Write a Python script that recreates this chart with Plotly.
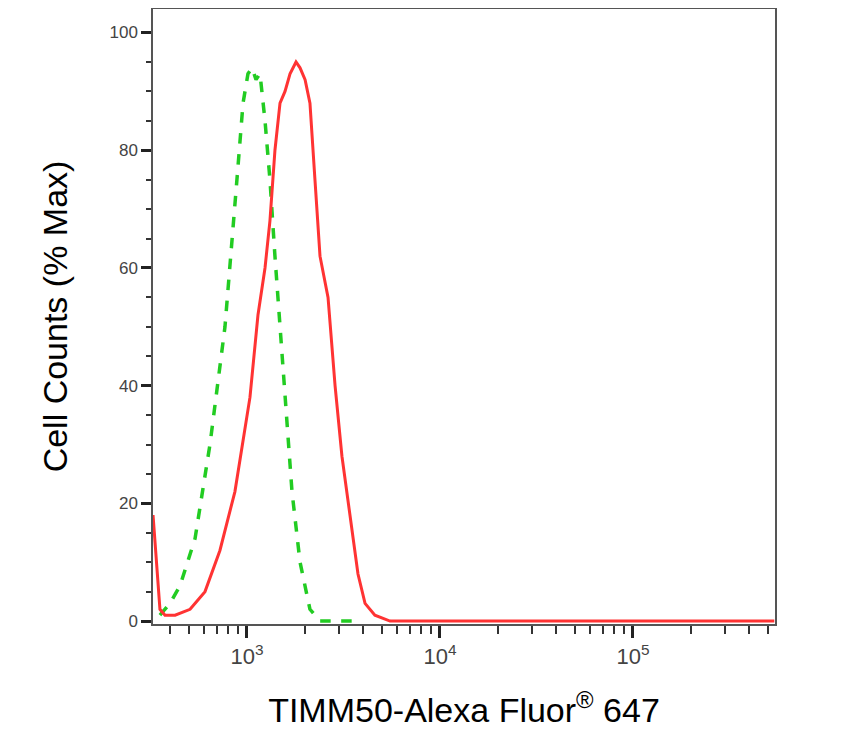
import plotly.graph_objects as go

red_x = [326, 354, 376, 424, 507, 606, 724, 866, 1036, 1140, 1240, 1315, 1396, 1483, 1574, 1671, 1795, 1883, 2000, 2120, 2250, 2390, 2630, 2860, 3105, 3420, 3760, 4090, 4600, 5510, 20000, 540000]
red_y = [18, 2, 1, 1, 2, 5, 12, 22, 38, 52, 60, 68, 80, 88, 90, 93, 95, 94, 92, 88, 75, 62, 55, 40, 28, 18, 8, 3, 1, 0, 0, 0]
green_x = [354, 399, 450, 538, 643, 769, 887, 954, 1012, 1062, 1114, 1168, 1240, 1315, 1396, 1483, 1574, 1711, 1883, 2120, 2390, 3630]
green_y = [1, 3, 6, 14, 30, 50, 75, 88, 93, 94, 92, 93, 85, 75, 62, 50, 38, 22, 10, 2, 0, 0]
major_ticks = [1e3, 1e4, 1e5]
major_labels = ["10<sup>3</sup>", "10<sup>4</sup>", "10<sup>5</sup>"]
minor_ticks = [m * 10**e for e in (2, 3, 4, 5) for m in range(2, 10) if 320 < m * 10**e < 550000]

fig = go.Figure()
fig.add_trace(go.Scatter(x=green_x, y=green_y, mode="lines",
                         line=dict(color="#22cc22", width=3.5, dash="dash")))
fig.add_trace(go.Scatter(x=red_x, y=red_y, mode="lines",
                         line=dict(color="#ff3333", width=3)))
fig.update_layout(
    width=834, height=732, showlegend=False,
    plot_bgcolor="white", paper_bgcolor="white",
    margin=dict(l=145, r=67, t=1, b=116, pad=0, autoexpand=False),
    font=dict(family="Liberation Sans, Arial", color="black"),
    xaxis=dict(type="log", range=[2.513, 5.736], showgrid=False, zeroline=False, automargin=False,
               showline=True, linecolor="#555", linewidth=1.5, mirror=True,
               tickvals=major_ticks, ticktext=major_labels, ticks="outside",
               ticklen=12, tickwidth=3, tickcolor="#222",
               tickfont=dict(size=22, color="#444"),
               minor=dict(tickvals=minor_ticks, ticks="outside", ticklen=8, tickwidth=2, tickcolor="#333"),
               title=dict(text="TIMM50-Alexa Fluor<sup>®</sup> 647", font=dict(size=34), standoff=30)),
    yaxis=dict(range=[-0.5, 104], showgrid=False, zeroline=False, automargin=False,
               showline=True, linecolor="#555", linewidth=1.5, mirror=True,
               tickvals=[0, 20, 40, 60, 80, 100], ticks="outside", ticklen=10, tickwidth=3,
               tickcolor="#222", tickfont=dict(size=17, color="#444"),
               minor=dict(dtick=5, ticks="outside", ticklen=5, tickwidth=1.5, tickcolor="#333"),
               title=dict(text="Cell Counts (% Max)", font=dict(size=34), standoff=32)),
)
fig.write_html("out.html")
